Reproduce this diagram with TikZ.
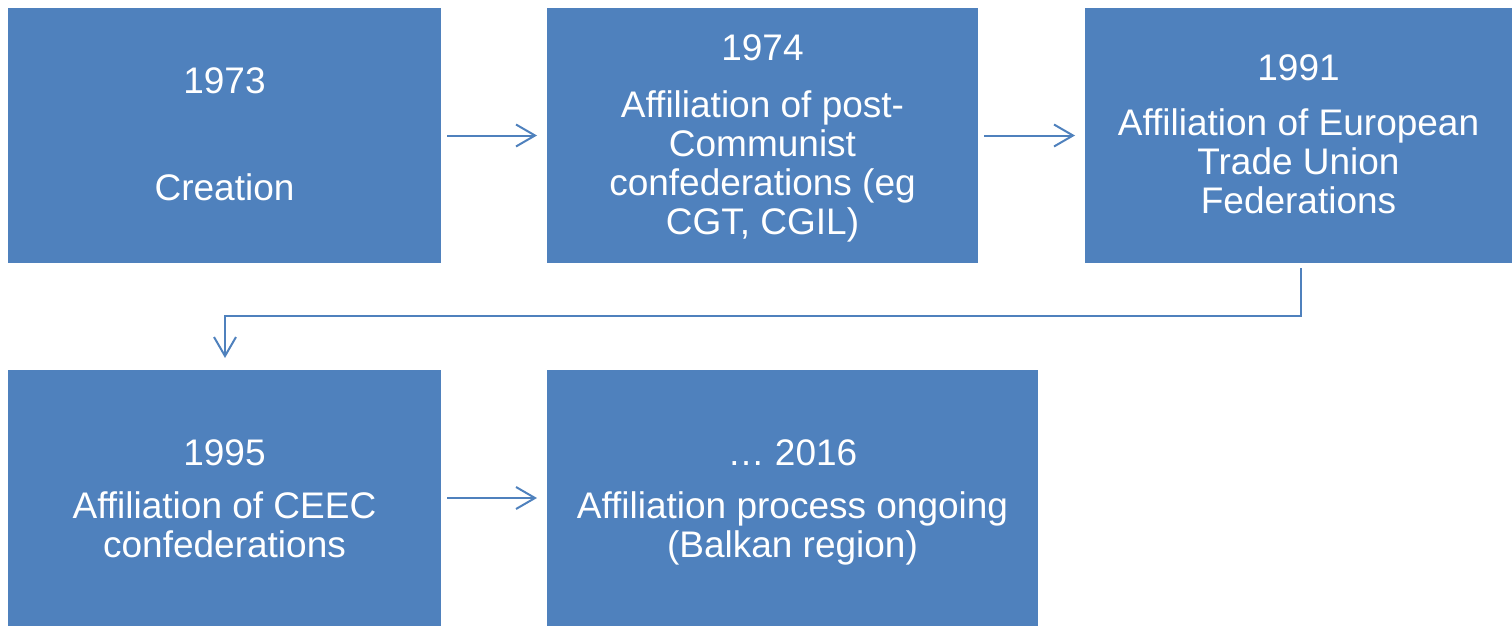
\documentclass[tikz,border=0pt]{standalone}
\usepackage{fontspec}
\setmainfont{Liberation Sans}
\usetikzlibrary{arrows.meta}
\definecolor{boxblue}{HTML}{4F81BD}
\begin{document}
\begin{tikzpicture}[x=1pt,y=-1pt,
  box/.style={fill=boxblue,draw=none,inner sep=0pt,outer sep=0pt},
  txt/.style={text=white,inner sep=0pt,anchor=base,align=center,font=\fontsize{37}{39}\selectfont},
  conn/.style={draw=boxblue,line width=2pt,-{Straight Barb[length=19pt,width=22pt,line width=2pt]}}]
\useasboundingbox (0,0) rectangle (1512,626);
\node[box,minimum width=433pt,minimum height=255pt] (b1) at (224.5,135.5) {};
\node[box,minimum width=431pt,minimum height=255pt] (b2) at (762.5,135.5) {};
\node[box,minimum width=427pt,minimum height=255pt] (b3) at (1298.5,135.5) {};
\node[box,minimum width=433pt,minimum height=256pt] (b4) at (224.5,498) {};
\node[box,minimum width=491pt,minimum height=256pt] (b5) at (792.5,498) {};
\node[txt] (t1a) at (224.5,93) {1973};
\node[txt] (t1b) at (224.5,200) {Creation};
\node[txt] (t2a) at (762.5,61) {1974};
\node[txt] (t2b) at (762.5,234) {Affiliation of post-\\Communist\\confederations (eg\\CGT, CGIL)};
\node[txt] (t3a) at (1298.5,81) {1991};
\node[txt] (t3b) at (1298.5,213) {Affiliation of European\\Trade Union\\Federations};
\node[txt] (t4a) at (224.5,465) {1995};
\node[txt] (t4b) at (224.5,557) {Affiliation of CEEC\\confederations};
\node[txt] (t5a) at (792.5,465) {… 2016};
\node[txt] (t5b) at (792.5,557) {Affiliation process ongoing\\(Balkan region)};
\draw[conn,shorten <=6pt,shorten >=10pt] (b1.east) -- (b2.west);
\draw[conn,shorten <=6pt,shorten >=10pt] (b2.east) -- (b3.west);
\draw[conn,shorten <=6pt,shorten >=10pt] (b4.east) -- (b4.east -| b5.west);
\coordinate (c1) at (1301,316);
\coordinate (c2) at (225,316);
\draw[conn,shorten >=12pt] (1301,268) -- (c1) -- (c2) -- (c2 |- b4.north);
\end{tikzpicture}
\end{document}
